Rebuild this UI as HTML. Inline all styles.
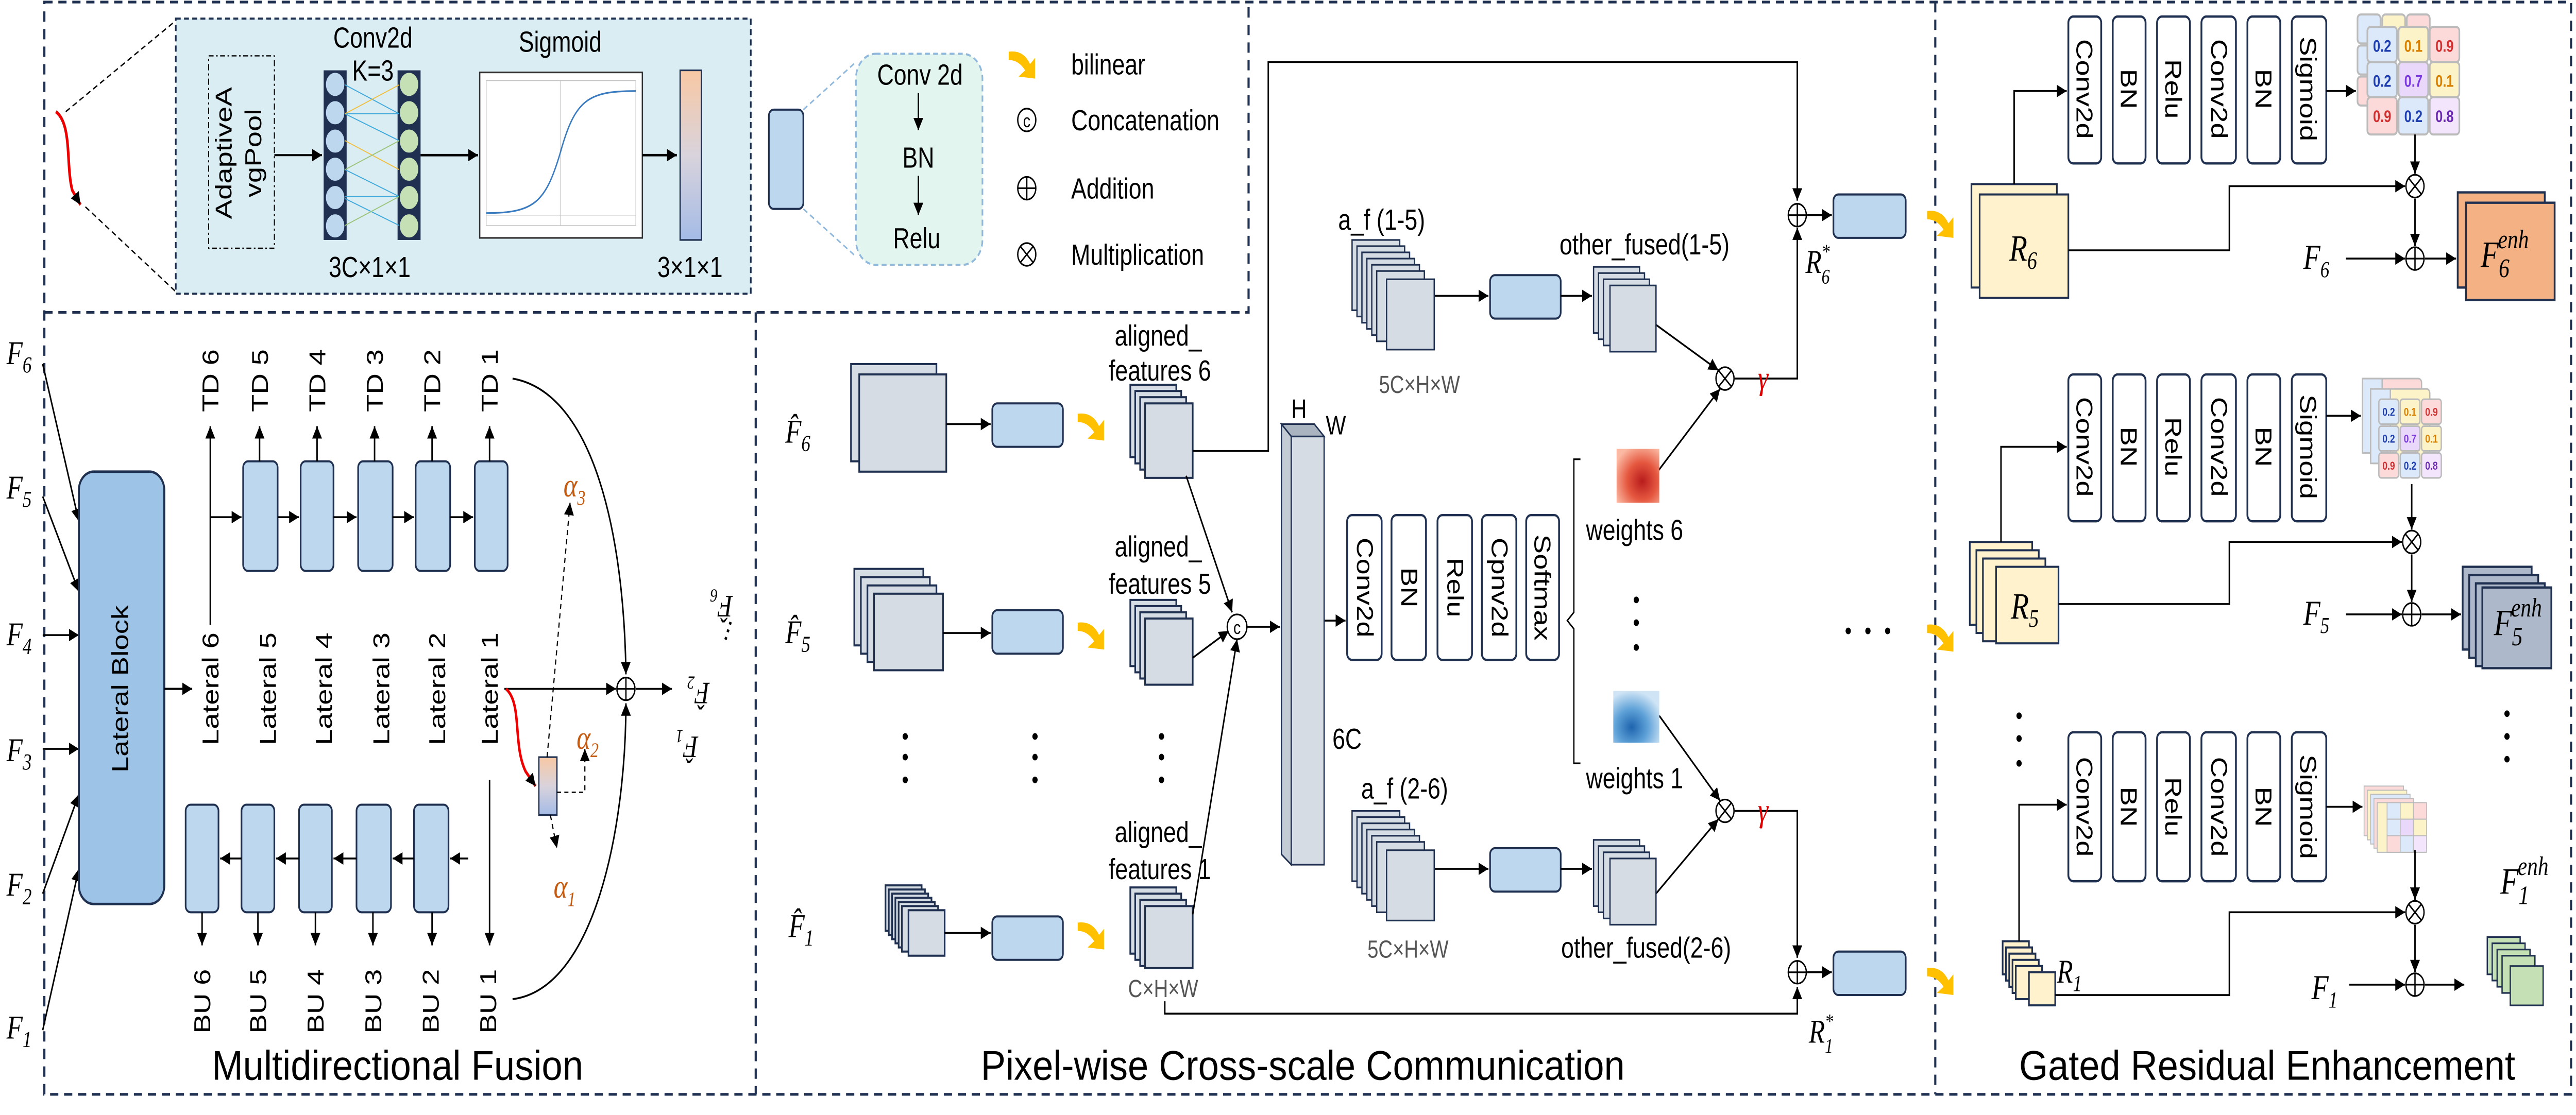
<!DOCTYPE html>
<html><head><meta charset="utf-8"><style>
html,body{margin:0;padding:0;background:#fff;width:100%;height:100%;overflow:hidden}
svg{display:block;width:100vw;height:100vh}
text{font-family:"Liberation Sans Narrow","Liberation Sans",sans-serif;fill:#000}
.m{font-family:"Liberation Serif",serif;font-style:italic}
.al{fill:#c55a11}
</style></head><body>
<svg viewBox="0 0 1568 539" preserveAspectRatio="none" xmlns="http://www.w3.org/2000/svg">
<defs>
<marker id="a" viewBox="0 0 10 10" refX="10" refY="5" markerWidth="6" markerHeight="6" orient="auto" markerUnits="userSpaceOnUse"><path d="M0,0L10,5L0,10z" fill="#000"/></marker>
<g id="pl"><circle r="5.5" fill="#fff" stroke="#000" stroke-width="0.8"/><path d="M-5.5,0H5.5M0,-5.5V5.5" stroke="#000" stroke-width="0.8"/></g>
<g id="ti"><circle r="5.5" fill="#fff" stroke="#000" stroke-width="0.8"/><path d="M-3.9,-3.9L3.9,3.9M-3.9,3.9L3.9,-3.9" stroke="#000" stroke-width="0.8"/></g>
<g id="ya"><path d="M0,2 Q9,1 13,8 L16,5 L16,15 L6,14 L10,11 Q6,6 0,6z" fill="#ffc000"/></g>
<linearGradient id="gb" x1="0" y1="0" x2="0" y2="1"><stop offset="0" stop-color="#f8c8a4"/><stop offset="0.5" stop-color="#d9d3dc"/><stop offset="1" stop-color="#a4bbe6"/></linearGradient>
<radialGradient id="rw" cx="0.6" cy="0.6" r="0.7"><stop offset="0" stop-color="#b81c1c"/><stop offset="0.5" stop-color="#e5573f"/><stop offset="1" stop-color="#fbb9a3"/></radialGradient>
<radialGradient id="bw" cx="0.4" cy="0.7" r="0.7"><stop offset="0" stop-color="#1e64ae"/><stop offset="0.5" stop-color="#5fa2d8"/><stop offset="1" stop-color="#cfe4f5"/></radialGradient>
</defs>

<g fill="none" stroke="#1f3050" stroke-width="1.3" stroke-dasharray="5,3.5">
<path d="M27,1H1565V529H27Z"/>
<path d="M27,151H760V1"/>
<path d="M460,151V529"/>
<path d="M1178,1V529"/>
</g>

<path d="M34,54 C44,60 40,80 44,92 L49,99" fill="none" stroke="#e00" stroke-width="1.6" marker-end="url(#a)"/>
<path d="M40,54L107,10M52,100L107,141" stroke="#000" stroke-width="0.7" stroke-dasharray="3,2"/>
<rect x="107" y="9" width="350" height="133" fill="#daedf3" stroke="#1f3050" stroke-width="1" stroke-dasharray="3,2"/>
<rect x="127" y="27" width="40" height="93" fill="none" stroke="#000" stroke-width="0.6" stroke-dasharray="3,1.5,1,1.5"/>
<text transform="translate(141,74) rotate(-90)" text-anchor="middle" font-size="14" font-family="Liberation Sans">AdaptiveA</text>
<text transform="translate(159,74) rotate(-90)" text-anchor="middle" font-size="14" font-family="Liberation Sans">vgPool</text>
<path d="M167,75H196" stroke="#000" stroke-width="1" marker-end="url(#a)"/>
<rect x="197" y="34" width="14" height="82" fill="#1f3050"/>
<rect x="242" y="34" width="14" height="82" fill="#1f3050"/>
<g stroke="#1f3050" stroke-width="0.8">
<circle cx="204" cy="40.8" r="6" fill="#bdd7ee"/><circle cx="204" cy="54.5" r="6" fill="#bdd7ee"/><circle cx="204" cy="68.2" r="6" fill="#bdd7ee"/><circle cx="204" cy="81.8" r="6" fill="#bdd7ee"/><circle cx="204" cy="95.5" r="6" fill="#bdd7ee"/><circle cx="204" cy="109.2" r="6" fill="#bdd7ee"/>
<circle cx="249" cy="40.8" r="6" fill="#c5e0b4"/><circle cx="249" cy="54.5" r="6" fill="#c5e0b4"/><circle cx="249" cy="68.2" r="6" fill="#c5e0b4"/><circle cx="249" cy="81.8" r="6" fill="#c5e0b4"/><circle cx="249" cy="95.5" r="6" fill="#c5e0b4"/><circle cx="249" cy="109.2" r="6" fill="#c5e0b4"/>
</g>
<g stroke-width="0.5"><path d="M210,41L243,55M210,55L243,55M210,55L243,68" stroke="#3fa9dc"/><path d="M210,82L243,95M210,95L243,95M210,96L243,109" stroke="#3fa9dc"/><path d="M210,68L243,82M210,55L243,41" stroke="#f0c040"/><path d="M210,82L243,68M210,109L243,95" stroke="#9cc47a"/></g>
<text x="227" y="23" text-anchor="middle" font-size="14">Conv2d</text>
<text x="227" y="39" text-anchor="middle" font-size="14">K=3</text>
<text x="225" y="134" text-anchor="middle" font-size="14">3C×1×1</text>
<path d="M256,75H291" stroke="#000" stroke-width="1.2" marker-end="url(#a)"/>
<rect x="292" y="35" width="99" height="80" fill="#fff" stroke="#333" stroke-width="0.8"/>
<rect x="296" y="39" width="91" height="70" fill="none" stroke="#bbb" stroke-width="0.3"/>
<path d="M296,104H387M341,39V109" stroke="#bbb" stroke-width="0.3"/>
<path d="M296,103 C325,103 332,98 341,74 C350,48 358,44 387,44" fill="none" stroke="#3a7bbf" stroke-width="0.8"/>
<text x="341" y="25" text-anchor="middle" font-size="14">Sigmoid</text>
<path d="M391,75H412" stroke="#000" stroke-width="1.2" marker-end="url(#a)"/>
<rect x="414" y="34" width="13" height="82" fill="url(#gb)" stroke="#1f3050" stroke-width="0.8"/>
<text x="420" y="134" text-anchor="middle" font-size="14">3×1×1</text>
<rect x="468" y="53" width="21" height="48" rx="3" fill="#bdd7ee" stroke="#1f3050" stroke-width="1"/>
<path d="M489,53L521,30M489,101L521,124" stroke="#8fb8dc" stroke-width="0.8" stroke-dasharray="3,2"/>
<rect x="521" y="26" width="77" height="102" rx="12" fill="#e2f5ee" stroke="#8fb8dc" stroke-width="1" stroke-dasharray="3,2"/>
<text x="560" y="41" text-anchor="middle" font-size="14">Conv 2d</text>
<path d="M559,45V63" stroke="#000" stroke-width="0.8" marker-end="url(#a)"/>
<text x="559" y="81" text-anchor="middle" font-size="14">BN</text>
<path d="M559,85V104" stroke="#000" stroke-width="0.8" marker-end="url(#a)"/>
<text x="558" y="120" text-anchor="middle" font-size="14">Relu</text>
<use href="#ya" x="614" y="23"/>
<text x="652" y="36" font-size="14">bilinear</text>
<circle cx="625" cy="58" r="5.5" fill="#fff" stroke="#000" stroke-width="0.8"/><text x="625" y="61.5" text-anchor="middle" font-size="9" font-family="Liberation Sans">c</text>
<text x="652" y="63" font-size="14">Concatenation</text>
<use href="#pl" x="625" y="91"/><text x="652" y="96" font-size="14">Addition</text>
<use href="#ti" x="625" y="123"/><text x="652" y="128" font-size="14">Multiplication</text>

<g class="m" font-size="16">
<text x="4" y="176" class="m">F<tspan font-size="11" dy="4">6</tspan></text>
<text x="4" y="241" class="m">F<tspan font-size="11" dy="4">5</tspan></text>
<text x="4" y="312" class="m">F<tspan font-size="11" dy="4">4</tspan></text>
<text x="4" y="368" class="m">F<tspan font-size="11" dy="4">3</tspan></text>
<text x="4" y="433" class="m">F<tspan font-size="11" dy="4">2</tspan></text>
<text x="4" y="502" class="m">F<tspan font-size="11" dy="4">1</tspan></text>
</g>
<g stroke="#000" stroke-width="0.9" marker-end="url(#a)" fill="none">
<path d="M26,176L48,252"/><path d="M26,240L48,286"/><path d="M26,307H48"/><path d="M26,362H48"/><path d="M26,432L48,384"/><path d="M26,498L48,420"/>
</g>
<rect x="48" y="228" width="52" height="209" rx="9" fill="#9dc3e6" stroke="#1f3050" stroke-width="1.2"/>
<text transform="translate(78,333) rotate(-90)" text-anchor="middle" font-size="14" font-family="Liberation Sans">Lateral Block</text>
<path d="M100,333H117" stroke="#000" stroke-width="1" marker-end="url(#a)"/>
<g font-size="14" font-family="Liberation Sans" text-anchor="middle">
<text transform="translate(133,333) rotate(-90)">Lateral 6</text>
<text transform="translate(168,333) rotate(-90)">Lateral 5</text>
<text transform="translate(202,333) rotate(-90)">Lateral 4</text>
<text transform="translate(237,333) rotate(-90)">Lateral 3</text>
<text transform="translate(271,333) rotate(-90)">Lateral 2</text>
<text transform="translate(303,333) rotate(-90)">Lateral 1</text>
<text transform="translate(133,184) rotate(-90)">TD 6</text>
<text transform="translate(163,184) rotate(-90)">TD 5</text>
<text transform="translate(198,184) rotate(-90)">TD 4</text>
<text transform="translate(233,184) rotate(-90)">TD 3</text>
<text transform="translate(268,184) rotate(-90)">TD 2</text>
<text transform="translate(303,184) rotate(-90)">TD 1</text>
<text transform="translate(128,484) rotate(-90)">BU 6</text>
<text transform="translate(162,484) rotate(-90)">BU 5</text>
<text transform="translate(197,484) rotate(-90)">BU 4</text>
<text transform="translate(232,484) rotate(-90)">BU 3</text>
<text transform="translate(267,484) rotate(-90)">BU 2</text>
<text transform="translate(302,484) rotate(-90)">BU 1</text>
</g>
<g fill="#bdd7ee" stroke="#1f3050" stroke-width="1">
<rect x="148" y="223" width="21" height="53" rx="3"/><rect x="183" y="223" width="20" height="53" rx="3"/><rect x="218" y="223" width="21" height="53" rx="3"/><rect x="253" y="223" width="21" height="53" rx="3"/><rect x="289" y="223" width="20" height="53" rx="3"/>
<rect x="113" y="389" width="20" height="52" rx="3"/><rect x="147" y="389" width="20" height="52" rx="3"/><rect x="182" y="389" width="20" height="52" rx="3"/><rect x="217" y="389" width="21" height="52" rx="3"/><rect x="252" y="389" width="21" height="52" rx="3"/>
</g>
<g stroke="#000" stroke-width="0.9" fill="none" marker-end="url(#a)">
<path d="M128,302V206"/>
<path d="M128,250H147"/><path d="M169,250H182"/><path d="M203,250H217"/><path d="M239,250H252"/><path d="M274,250H288"/>
<path d="M158,223V206"/><path d="M193,223V206"/><path d="M228,223V206"/><path d="M263,223V206"/><path d="M298,223V206"/>
<path d="M285,415H274"/><path d="M252,415H239"/><path d="M217,415H203"/><path d="M182,415H168"/><path d="M147,415H134"/>
<path d="M123,441V457"/><path d="M157,441V457"/><path d="M192,441V457"/><path d="M227,441V457"/><path d="M263,441V457"/>
<path d="M298,377V457"/>
<path d="M312,183 C362,190 380,260 381,326"/>
<path d="M312,483 C362,478 381,400 381,340"/>
<path d="M307,333H375"/>
<path d="M387,333H409"/>
</g>
<use href="#pl" x="381" y="333"/>
<path d="M308,333 C318,340 312,360 320,373 L326,380" fill="none" stroke="#e00" stroke-width="1.5" marker-end="url(#a)"/>
<rect x="328" y="366" width="11" height="28" fill="url(#gb)" stroke="#1f3050" stroke-width="0.8"/>
<g stroke="#000" stroke-width="0.7" stroke-dasharray="2.5,2" fill="none" marker-end="url(#a)">
<path d="M333,366L347,243"/><path d="M339,383H356V362"/><path d="M335,394L339,410"/>
</g>
<text x="343" y="240" class="m al" font-size="16">α<tspan font-size="10" dy="4">3</tspan></text>
<text x="351" y="362" class="m al" font-size="16">α<tspan font-size="10" dy="4">2</tspan></text>
<text x="337" y="434" class="m al" font-size="16">α<tspan font-size="10" dy="4">1</tspan></text>
<g class="m" font-size="15">
<text transform="translate(446,288) rotate(180)" class="m">F̂<tspan font-size="9" dy="3">6</tspan></text>
<text transform="translate(432,330) rotate(180)" class="m">F̂<tspan font-size="9" dy="3">2</tspan></text>
<text transform="translate(425,356) rotate(180)" class="m">F̂<tspan font-size="9" dy="3">1</tspan></text>
</g>
<text x="440" y="312" font-size="14" transform="rotate(-70 440 310)">...</text>
<text x="242" y="522" text-anchor="middle" font-size="20" textLength="226" lengthAdjust="spacingAndGlyphs">Multidirectional Fusion</text>

<g class="m" font-size="16">
<text x="478" y="214" class="m">F̂<tspan font-size="11" dy="4">6</tspan></text>
<text x="478" y="311" class="m">F̂<tspan font-size="11" dy="4">5</tspan></text>
<text x="480" y="453" class="m">F̂<tspan font-size="11" dy="4">1</tspan></text>
</g>
<g fill="#d6dce4" stroke="#1f3050" stroke-width="1">
<rect x="518" y="176" width="52" height="47"/><rect x="523" y="181" width="53" height="47"/>
<rect x="520" y="275" width="42" height="37"/><rect x="524" y="279" width="42" height="37"/><rect x="528" y="283" width="42" height="37"/><rect x="532" y="287" width="42" height="37"/>
<rect x="539" y="428" width="22" height="22"/><rect x="541" y="430" width="22" height="22"/><rect x="543" y="432" width="22" height="22"/><rect x="545" y="434" width="22" height="22"/><rect x="547" y="436" width="22" height="22"/><rect x="549" y="438" width="22" height="22"/><rect x="553" y="440" width="22" height="22"/>
<rect x="688" y="186" width="28" height="35"/><rect x="691" y="189" width="28" height="35"/><rect x="694" y="192" width="28" height="35"/><rect x="697" y="195" width="29" height="36"/>
<rect x="688" y="290" width="28" height="32"/><rect x="691" y="293" width="28" height="32"/><rect x="694" y="296" width="28" height="32"/><rect x="697" y="299" width="29" height="32"/>
<rect x="688" y="429" width="28" height="32"/><rect x="691" y="432" width="28" height="32"/><rect x="694" y="435" width="28" height="32"/><rect x="697" y="438" width="29" height="30"/>
</g>
<g fill="#bdd7ee" stroke="#1f3050" stroke-width="1">
<rect x="604" y="195" width="43" height="21" rx="3"/><rect x="604" y="295" width="43" height="21" rx="3"/><rect x="604" y="443" width="43" height="21" rx="3"/>
<rect x="907" y="133" width="43" height="21" rx="3"/><rect x="907" y="410" width="43" height="21" rx="3"/>
<rect x="1116" y="94" width="44" height="21" rx="3"/><rect x="1116" y="460" width="44" height="21" rx="3"/>
</g>
<g stroke="#000" stroke-width="0.9" fill="none" marker-end="url(#a)">
<path d="M576,205H603"/><path d="M574,306H603"/><path d="M575,451H603"/>
</g>
<use href="#ya" x="656" y="198"/><use href="#ya" x="656" y="299"/><use href="#ya" x="656" y="444"/>
<g font-size="14" text-anchor="middle">
<text x="705" y="167">aligned_</text><text x="706" y="184">features 6</text>
<text x="705" y="269">aligned_</text><text x="706" y="287">features 5</text>
<text x="705" y="407">aligned_</text><text x="706" y="425">features 1</text>
</g>
<text x="708" y="482" text-anchor="middle" font-size="12" style="fill:#555">C×H×W</text>
<g fill="#000"><circle cx="551" cy="356" r="1.6"/><circle cx="551" cy="366" r="1.6"/><circle cx="551" cy="377" r="1.6"/><circle cx="630" cy="356" r="1.6"/><circle cx="630" cy="366" r="1.6"/><circle cx="630" cy="377" r="1.6"/><circle cx="707" cy="356" r="1.6"/><circle cx="707" cy="366" r="1.6"/><circle cx="707" cy="377" r="1.6"/></g>
<g stroke="#000" stroke-width="0.9" fill="none" marker-end="url(#a)">
<path d="M722,230L750,296"/><path d="M726,318L748,305"/><path d="M726,442L753,309"/>
<path d="M759,303H779"/>
<path d="M726,218H772V30H1094V97"/>
<path d="M1100,104H1115"/>
<path d="M709,484V490H1094V477"/>
<path d="M1100,470H1115"/>
<path d="M806,300H819"/>
<path d="M873,143H906"/><path d="M950,143H969"/>
<path d="M873,420H906"/><path d="M950,420H969"/>
<path d="M1008,157L1046,179"/><path d="M1008,229L1047,188"/>
<path d="M1010,346L1047,387"/><path d="M1008,432L1046,396"/>
<path d="M1056,183H1094V110"/>
<path d="M1056,392H1094V463"/>
</g>
<circle cx="753" cy="303" r="6" fill="#fff" stroke="#000" stroke-width="0.8"/><text x="753" y="306.5" text-anchor="middle" font-size="9" font-family="Liberation Sans">c</text>
<use href="#pl" x="1094" y="104"/><use href="#pl" x="1094" y="470"/>
<use href="#ti" x="1050" y="183"/><use href="#ti" x="1050" y="392"/>
<text x="1070" y="188" class="m" font-size="16" style="fill:#d00">γ</text>
<text x="1070" y="397" class="m" font-size="16" style="fill:#d00">γ</text>
<text x="1099" y="132" class="m" font-size="16">R<tspan font-size="10" dy="5">6</tspan><tspan font-size="10" dx="-5" dy="-12">*</tspan></text>
<text x="1101" y="504" class="m" font-size="16">R<tspan font-size="10" dy="5">1</tspan><tspan font-size="10" dx="-5" dy="-12">*</tspan></text>
<path d="M780,205H800L806,211H786Z" fill="#aab4c0" stroke="#1f3050" stroke-width="0.8"/>
<path d="M780,205V413L786,418V211Z" fill="#c3cbd4" stroke="#1f3050" stroke-width="0.8"/>
<rect x="786" y="211" width="20" height="207" fill="#d6dce4" stroke="#1f3050" stroke-width="0.8"/>
<text x="786" y="202" font-size="13">H</text><text x="807" y="210" font-size="13">W</text>
<text x="811" y="362" font-size="14">6C</text>
<g fill="#fff" stroke="#1f3050" stroke-width="1.1">
<rect x="820" y="249" width="21" height="70" rx="3"/><rect x="847" y="249" width="21" height="70" rx="3"/><rect x="875" y="249" width="21" height="70" rx="3"/><rect x="902" y="249" width="21" height="70" rx="3"/><rect x="929" y="249" width="20" height="70" rx="3"/>
</g>
<g font-size="14" font-family="Liberation Sans" text-anchor="middle">
<text transform="translate(826,284) rotate(90)">Conv2d</text>
<text transform="translate(853,284) rotate(90)">BN</text>
<text transform="translate(881,284) rotate(90)">Relu</text>
<text transform="translate(908,284) rotate(90)">Cpnv2d</text>
<text transform="translate(934,284) rotate(90)">Softmax</text>
</g>
<path d="M962,222H958V296L954,300L958,304V369H962" fill="none" stroke="#000" stroke-width="0.8"/>
<rect x="984" y="217" width="26" height="26" fill="url(#rw)"/>
<rect x="982" y="334" width="28" height="25" fill="url(#bw)"/>
<text x="995" y="261" text-anchor="middle" font-size="14">weights 6</text>
<text x="995" y="381" text-anchor="middle" font-size="14">weights 1</text>
<g fill="#000"><circle cx="996" cy="290" r="1.6"/><circle cx="996" cy="301" r="1.6"/><circle cx="996" cy="313" r="1.6"/><circle cx="1125" cy="305" r="1.6"/><circle cx="1137" cy="305" r="1.6"/><circle cx="1149" cy="305" r="1.6"/></g>
<g fill="#d6dce4" stroke="#1f3050" stroke-width="0.8">
<rect x="823" y="116" width="29" height="34"/><rect x="826" y="119" width="29" height="34"/><rect x="829" y="122" width="29" height="34"/><rect x="832" y="125" width="29" height="34"/><rect x="835" y="128" width="29" height="34"/><rect x="838" y="131" width="29" height="34"/><rect x="844" y="135" width="29" height="34"/>
<rect x="823" y="392" width="29" height="34"/><rect x="826" y="395" width="29" height="34"/><rect x="829" y="398" width="29" height="34"/><rect x="832" y="401" width="29" height="34"/><rect x="835" y="404" width="29" height="34"/><rect x="838" y="407" width="29" height="34"/><rect x="844" y="411" width="29" height="34"/>
<rect x="970" y="129" width="28" height="32"/><rect x="973" y="132" width="28" height="32"/><rect x="976" y="135" width="28" height="32"/><rect x="980" y="138" width="28" height="32"/>
<rect x="970" y="406" width="28" height="32"/><rect x="973" y="409" width="28" height="32"/><rect x="976" y="412" width="28" height="32"/><rect x="980" y="415" width="28" height="32"/>
</g>
<text x="841" y="111" text-anchor="middle" font-size="14">a_f (1-5)</text>
<text x="855" y="386" text-anchor="middle" font-size="14">a_f (2-6)</text>
<text x="864" y="190" text-anchor="middle" font-size="12" style="fill:#555">5C×H×W</text>
<text x="857" y="463" text-anchor="middle" font-size="12" style="fill:#555">5C×H×W</text>
<text x="1001" y="123" text-anchor="middle" font-size="14">other_fused(1-5)</text>
<text x="1002" y="463" text-anchor="middle" font-size="14">other_fused(2-6)</text>
<use href="#ya" x="1173" y="100"/><use href="#ya" x="1173" y="300"/><use href="#ya" x="1173" y="466"/>
<text x="793" y="522" text-anchor="middle" font-size="20" textLength="392" lengthAdjust="spacingAndGlyphs">Pixel-wise Cross-scale Communication</text>

<g fill="#fff" stroke="#1f3050" stroke-width="1.1">
<rect x="1259" y="8" width="20" height="71" rx="3"/><rect x="1286" y="8" width="20" height="71" rx="3"/><rect x="1313" y="8" width="20" height="71" rx="3"/><rect x="1340" y="8" width="21" height="71" rx="3"/><rect x="1368" y="8" width="20" height="71" rx="3"/><rect x="1395" y="8" width="21" height="71" rx="3"/>
<rect x="1259" y="181" width="20" height="71" rx="3"/><rect x="1286" y="181" width="20" height="71" rx="3"/><rect x="1313" y="181" width="20" height="71" rx="3"/><rect x="1340" y="181" width="21" height="71" rx="3"/><rect x="1368" y="181" width="20" height="71" rx="3"/><rect x="1395" y="181" width="21" height="71" rx="3"/>
<rect x="1259" y="354" width="20" height="72" rx="3"/><rect x="1286" y="354" width="20" height="72" rx="3"/><rect x="1313" y="354" width="20" height="72" rx="3"/><rect x="1340" y="354" width="21" height="72" rx="3"/><rect x="1368" y="354" width="20" height="72" rx="3"/><rect x="1395" y="354" width="21" height="72" rx="3"/>
</g>
<g font-size="14" font-family="Liberation Sans" text-anchor="middle">
<text transform="translate(1264,43) rotate(90)">Conv2d</text><text transform="translate(1291,43) rotate(90)">BN</text><text transform="translate(1318,43) rotate(90)">Relu</text><text transform="translate(1346,43) rotate(90)">Conv2d</text><text transform="translate(1373,43) rotate(90)">BN</text><text transform="translate(1400,43) rotate(90)">Sigmoid</text>
<text transform="translate(1264,216) rotate(90)">Conv2d</text><text transform="translate(1291,216) rotate(90)">BN</text><text transform="translate(1318,216) rotate(90)">Relu</text><text transform="translate(1346,216) rotate(90)">Conv2d</text><text transform="translate(1373,216) rotate(90)">BN</text><text transform="translate(1400,216) rotate(90)">Sigmoid</text>
<text transform="translate(1264,390) rotate(90)">Conv2d</text><text transform="translate(1291,390) rotate(90)">BN</text><text transform="translate(1318,390) rotate(90)">Relu</text><text transform="translate(1346,390) rotate(90)">Conv2d</text><text transform="translate(1373,390) rotate(90)">BN</text><text transform="translate(1400,390) rotate(90)">Sigmoid</text>
</g>
<g stroke="#bbb" stroke-width="1">
<rect x="1435" y="7" width="14" height="14" rx="2" fill="#dce9fa"/><rect x="1450" y="7" width="14" height="14" rx="2" fill="#fdf3c8"/><rect x="1465" y="7" width="14" height="14" rx="2" fill="#fcdada"/>
<rect x="1435" y="22" width="14" height="14" rx="2" fill="#dce9fa"/><rect x="1435" y="37" width="14" height="14" rx="2" fill="#fcdada"/>
<rect x="1441" y="13" width="18" height="17" rx="2" fill="#dce9fa"/><rect x="1460" y="13" width="18" height="17" rx="2" fill="#fdf3c8"/><rect x="1479" y="13" width="18" height="17" rx="2" fill="#fcdada"/>
<rect x="1441" y="30" width="18" height="17" rx="2" fill="#dce9fa"/><rect x="1460" y="30" width="18" height="17" rx="2" fill="#e9d8fa"/><rect x="1479" y="30" width="18" height="17" rx="2" fill="#fdf3c8"/>
<rect x="1441" y="47" width="18" height="18" rx="2" fill="#fcdada"/><rect x="1460" y="47" width="18" height="18" rx="2" fill="#dce9fa"/><rect x="1479" y="47" width="18" height="18" rx="2" fill="#f3e6fc"/>
</g>
<g font-size="8" font-weight="bold" text-anchor="middle" font-family="Liberation Sans">
<text x="1450" y="25" style="fill:#1f3fb0">0.2</text><text x="1469" y="25" style="fill:#d98000">0.1</text><text x="1488" y="25" style="fill:#d03030">0.9</text>
<text x="1450" y="42" style="fill:#1f3fb0">0.2</text><text x="1469" y="42" style="fill:#7a3ae0">0.7</text><text x="1488" y="42" style="fill:#d98000">0.1</text>
<text x="1450" y="59" style="fill:#d03030">0.9</text><text x="1469" y="59" style="fill:#1f3fb0">0.2</text><text x="1488" y="59" style="fill:#6a2ab0">0.8</text>
</g>
<g stroke="#bbb" stroke-width="0.8">
<rect x="1438" y="183" width="36" height="36" rx="2" fill="#fcdada"/><rect x="1438" y="183" width="12" height="36" fill="#dce9fa"/>
<rect x="1443" y="188" width="36" height="36" rx="2" fill="#fdf3c8"/><rect x="1443" y="188" width="12" height="36" fill="#dce9fa"/>
<rect x="1448" y="193" width="12" height="12" rx="1.5" fill="#dce9fa"/><rect x="1461" y="193" width="12" height="12" rx="1.5" fill="#fdf3c8"/><rect x="1474" y="193" width="12" height="12" rx="1.5" fill="#fcdada"/>
<rect x="1448" y="206" width="12" height="12" rx="1.5" fill="#dce9fa"/><rect x="1461" y="206" width="12" height="12" rx="1.5" fill="#e9d8fa"/><rect x="1474" y="206" width="12" height="12" rx="1.5" fill="#fdf3c8"/>
<rect x="1448" y="219" width="12" height="12" rx="1.5" fill="#fcdada"/><rect x="1461" y="219" width="12" height="12" rx="1.5" fill="#dce9fa"/><rect x="1474" y="219" width="12" height="12" rx="1.5" fill="#f3e6fc"/>
</g>
<g font-size="5.5" font-weight="bold" text-anchor="middle" font-family="Liberation Sans">
<text x="1454" y="201" style="fill:#1f3fb0">0.2</text><text x="1467" y="201" style="fill:#d98000">0.1</text><text x="1480" y="201" style="fill:#d03030">0.9</text>
<text x="1454" y="214" style="fill:#1f3fb0">0.2</text><text x="1467" y="214" style="fill:#7a3ae0">0.7</text><text x="1480" y="214" style="fill:#d98000">0.1</text>
<text x="1454" y="227" style="fill:#d03030">0.9</text><text x="1467" y="227" style="fill:#1f3fb0">0.2</text><text x="1480" y="227" style="fill:#6a2ab0">0.8</text>
</g>
<g stroke="#bbb" stroke-width="0.5">
<rect x="1439" y="380" width="24" height="24" fill="#fcdada"/><rect x="1441" y="382" width="24" height="24" fill="#fdf3c8"/><rect x="1443" y="384" width="24" height="24" fill="#dce9fa"/><rect x="1445" y="386" width="24" height="24" fill="#fcdada"/><rect x="1447" y="388" width="24" height="24" fill="#fdf3c8"/>
<rect x="1453" y="388" width="8" height="8" fill="#dce9fa"/><rect x="1461" y="388" width="8" height="8" fill="#fdf3c8"/><rect x="1469" y="388" width="8" height="8" fill="#fcdada"/>
<rect x="1453" y="396" width="8" height="8" fill="#dce9fa"/><rect x="1461" y="396" width="8" height="8" fill="#e9d8fa"/><rect x="1469" y="396" width="8" height="8" fill="#fdf3c8"/>
<rect x="1453" y="404" width="8" height="8" fill="#fcdada"/><rect x="1461" y="404" width="8" height="8" fill="#dce9fa"/><rect x="1469" y="404" width="8" height="8" fill="#f3e6fc"/>
</g>
<g fill="#fff2cc" stroke="#1f3050" stroke-width="1">
<rect x="1200" y="89" width="52" height="50"/><rect x="1205" y="94" width="54" height="50"/>
<rect x="1199" y="262" width="38" height="40"/><rect x="1203" y="266" width="38" height="40"/><rect x="1207" y="270" width="38" height="40"/><rect x="1215" y="274" width="38" height="37"/>
<rect x="1219" y="455" width="16" height="16"/><rect x="1221" y="458" width="16" height="16"/><rect x="1223" y="461" width="16" height="16"/><rect x="1225" y="464" width="16" height="16"/><rect x="1227" y="467" width="16" height="16"/><rect x="1235" y="470" width="16" height="16"/>
</g>
<text x="1223" y="126" class="m" font-size="18">R<tspan font-size="12" dy="4">6</tspan></text>
<text x="1224" y="299" class="m" font-size="18">R<tspan font-size="12" dy="4">5</tspan></text>
<text x="1252" y="475" class="m" font-size="16">R<tspan font-size="11" dy="4">1</tspan></text>
<g fill="#f4b183" stroke="#1f3050" stroke-width="1.1"><rect x="1496" y="93" width="53" height="46"/><rect x="1501" y="98" width="54" height="47"/></g>
<g fill="#adb9ca" stroke="#1f3050" stroke-width="1.1"><rect x="1499" y="274" width="42" height="40"/><rect x="1503" y="278" width="42" height="40"/><rect x="1507" y="282" width="42" height="40"/><rect x="1511" y="284" width="42" height="39"/></g>
<g fill="#c5e0b4" stroke="#1f3050" stroke-width="0.8"><rect x="1514" y="453" width="20" height="18"/><rect x="1517" y="456" width="20" height="18"/><rect x="1520" y="459" width="20" height="18"/><rect x="1523" y="462" width="20" height="18"/><rect x="1528" y="467" width="20" height="19"/></g>
<text x="1510" y="129" class="m" font-size="18">F<tspan font-size="13" dy="5">6</tspan><tspan font-size="13" dx="-7" dy="-14">enh</tspan></text>
<text x="1518" y="307" class="m" font-size="18">F<tspan font-size="13" dy="5">5</tspan><tspan font-size="13" dx="-7" dy="-14">enh</tspan></text>
<text x="1522" y="432" class="m" font-size="18">F<tspan font-size="13" dy="5">1</tspan><tspan font-size="13" dx="-7" dy="-14">enh</tspan></text>
<text x="1402" y="130" class="m" font-size="17">F<tspan font-size="11" dy="4">6</tspan></text>
<text x="1402" y="302" class="m" font-size="17">F<tspan font-size="11" dy="4">5</tspan></text>
<text x="1407" y="483" class="m" font-size="17">F<tspan font-size="11" dy="4">1</tspan></text>
<g stroke="#000" stroke-width="0.9" fill="none" marker-end="url(#a)">
<path d="M1226,89V44H1258"/><path d="M1416,44H1434"/><path d="M1259,121H1357V90H1464"/><path d="M1470,65V84"/><path d="M1470,96V119"/><path d="M1428,125H1464"/><path d="M1476,125H1495"/>
<path d="M1218,262V216H1258"/><path d="M1416,201H1437"/><path d="M1253,292H1357V262H1462"/><path d="M1468,234V256"/><path d="M1468,268V291"/><path d="M1428,297H1462"/><path d="M1474,297H1498"/>
<path d="M1229,455V389H1258"/><path d="M1416,390H1438"/><path d="M1251,481H1357V441H1464"/><path d="M1470,411V435"/><path d="M1470,447V470"/><path d="M1430,476H1464"/><path d="M1476,476H1500"/>
</g>
<use href="#ti" x="1470" y="90"/><use href="#pl" x="1470" y="125"/>
<use href="#ti" x="1468" y="262"/><use href="#pl" x="1468" y="297"/>
<use href="#ti" x="1470" y="441"/><use href="#pl" x="1470" y="476"/>
<g fill="#000"><circle cx="1229" cy="346" r="1.6"/><circle cx="1229" cy="357" r="1.6"/><circle cx="1229" cy="369" r="1.6"/><circle cx="1526" cy="345" r="1.6"/><circle cx="1526" cy="356" r="1.6"/><circle cx="1526" cy="367" r="1.6"/></g>
<text x="1380" y="522" text-anchor="middle" font-size="20" textLength="302" lengthAdjust="spacingAndGlyphs">Gated Residual Enhancement</text>
</svg>
</body></html>
